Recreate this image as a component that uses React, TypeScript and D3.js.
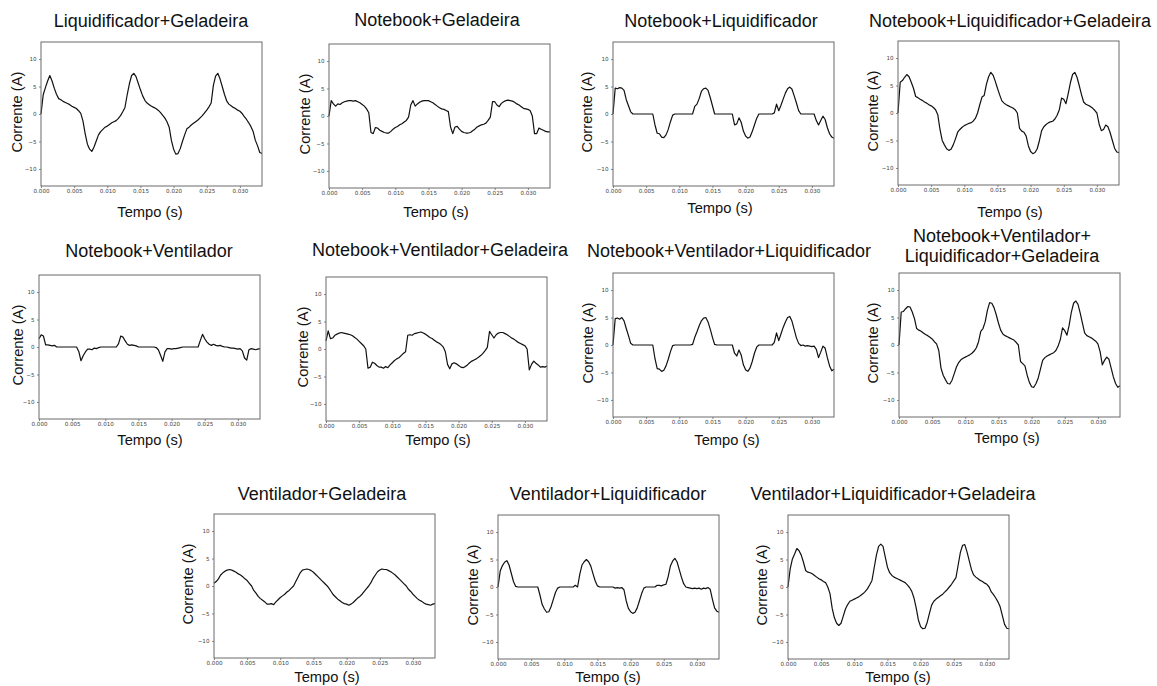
import React, { useEffect, useRef } from 'react';
import * as d3 from 'd3';

// samples are 1/3000 s apart, 101 per trace (0 .. 33.3 ms)
const SAMPLE_STEP = 1 / 3000;
const X_DOMAIN: [number, number] = [0, 1 / 30];
const Y_DOMAIN: [number, number] = [-13.1, 13.1];
const X_TICKS = [0, 0.005, 0.01, 0.015, 0.02, 0.025, 0.03];
const Y_TICKS = [-10, -5, 0, 5, 10];

const liqGeladeira = [
  0, 3.5, 4.8, 6.0, 7.0, 6.0, 4.7, 3.6, 2.8, 2.6,
  2.3, 2.1, 1.9, 1.7, 1.4, 1.2, 1.0, 0.6, 0.1, -1.3,
  -3.6, -5.5, -6.4, -6.8, -6.0, -4.9, -3.8, -3.2, -2.8, -2.4,
  -2.2, -1.9, -1.6, -1.4, -1.2, -0.8, -0.3, 0.4, 1.2, 3.5,
  5.5, 7.0, 7.4, 6.8, 5.6, 4.4, 3.3, 2.5, 2.0, 1.7,
  1.4, 1.2, 1.0, 0.7, 0.3, -0.2, -0.7, -1.4, -2.4, -4.8,
  -6.4, -7.3, -7.2, -6.3, -5.0, -3.8, -2.7, -2.4, -2.0, -1.7,
  -1.4, -1.1, -0.7, -0.3, 0.2, 0.7, 1.3, 2.0, 5.2, 6.9,
  7.4, 6.4, 5.0, 3.6, 2.4, 1.8, 1.5, 1.2, 1.0, 0.7,
  0.5, 0.1, -0.5, -1.0, -1.6, -2.3, -3.2, -4.8, -5.8, -7.0,
  -7.2,
];

const notebookGeladeira = [
  0, 2.8, 2.2, 1.8, 2.2, 2.1, 2.4, 2.6, 2.7, 2.8,
  2.8, 2.7, 2.8, 2.6, 2.4, 2.1, 1.8, 1.3, 0.6, -3.0,
  -3.2, -2.1, -2.2, -2.6, -2.8, -3.0, -3.1, -3.1, -2.8, -2.4,
  -2.1, -1.9, -1.6, -1.4, -1.1, -0.8, -0.2, 2.0, 2.8, 1.8,
  2.2, 2.5, 2.7, 2.8, 2.8, 2.8, 2.6, 2.4, 2.1, 1.8,
  1.5, 1.3, 1.2, 1.0, 0.8, -2.0, -3.2, -2.0, -1.9, -2.4,
  -2.8, -3.0, -3.1, -3.1, -3.0, -2.7, -2.4, -2.0, -1.8, -1.6,
  -1.5, -1.3, -0.8, -0.2, 2.6, 2.6, 2.0, 1.7, 2.3, 2.6,
  2.8, 2.9, 2.8, 2.7, 2.5, 2.2, 2.0, 1.7, 1.4, 1.3,
  1.2, 1.0, 0.0, -3.2, -3.2, -2.2, -2.4, -2.6, -2.8, -2.9,
  -2.9,
];

const notebookLiq = [
  0, 4.7, 4.6, 4.8, 4.7, 4.3, 2.6, 1.5, 0.4, 0,
  0, 0, 0, 0, 0, 0, 0, 0, 0, -2.0,
  -3.5, -3.6, -4.2, -4.3, -3.8, -2.8, -1.4, -0.2, 0, 0,
  0, 0, 0, 0, 0, 0, 0, 1.4, 1.8, 2.8,
  4.1, 4.6, 4.7, 4.3, 3.0, 1.5, 0, 0, 0, 0,
  0, 0, 0, 0, 0, -2.0, -1.8, -0.7, -1.5, -3.1,
  -4.0, -4.4, -4.2, -3.2, -2.0, -0.8, 0, 0, 0, 0,
  0, 0, 0, 0.2, 1.8, 0.6, 1.6, 2.7, 3.8, 4.6,
  4.9, 4.5, 3.3, 2.0, 0.6, 0, 0, 0, 0, 0,
  0, 0, -1.2, -2.0, -1.2, -0.4, -1.0, -2.5, -3.6, -4.2,
  -4.4,
];

const notebookLiqGeladeira = [
  0, 5.6, 5.9, 6.5, 7.0, 6.6, 5.6, 4.5, 3.0, 2.8,
  2.5, 2.3, 2.0, 1.8, 1.5, 1.3, 1.0, 0.6, -0.3, -3.0,
  -5.0, -5.8, -6.5, -6.8, -6.6, -5.8, -4.7, -3.5, -3.0, -2.6,
  -2.3, -2.1, -1.9, -1.8, -1.5, -1.0, 0.0, 1.5, 2.9, 3.2,
  5.2, 6.6, 7.4, 6.9, 5.8, 4.5, 3.3, 2.2, 1.8, 1.5,
  1.3, 1.1, 0.9, 0.6, 0.0, -2.8, -3.3, -3.5, -4.2, -6.0,
  -7.0, -7.4, -7.2, -6.5, -5.0, -3.2, -2.5, -2.1, -1.8, -1.6,
  -1.5, -1.1, -0.4, 0.6, 2.7, 2.5, 1.7, 3.5, 5.5, 7.0,
  7.4, 6.5, 5.0, 3.4, 2.0, 1.6, 1.4, 1.2, 0.9, 0.5,
  0.0, -2.0, -3.2, -3.0, -2.2, -2.5, -3.6, -5.0, -6.4, -7.1,
  -7.2,
];

const notebookVent = [
  1.5, 2.2, 2.0, 0.4, 0.4, 0.3, 0.2, 0.3, 0.0, 0,
  0, 0, 0, 0, 0, 0, 0, 0, -0.8, -2.5,
  -1.6, -0.9, -0.4, -0.4, -0.5, -0.2, -0.3, -0.1, 0, 0,
  0, 0, 0, 0, 0, 0, 0.6, 2.0, 1.8, 1.1,
  0.5, 0.3, 0.4, 0.3, 0.2, 0, 0, 0, 0, 0,
  0, 0, 0, -0.1, -0.5, -1.5, -2.6, -0.9, -0.3, -0.3,
  -0.4, -0.3, -0.3, -0.2, -0.1, 0, 0, 0, 0, 0,
  0, 0, 0, 1.2, 2.3, 1.5, 0.9, 0.5, 0.3, 0.5,
  0.3, 0.2, 0.3, 0.1, 0, 0, -0.1, -0.2, -0.2, -0.3,
  -0.4, -0.3, -0.7, -2.0, -2.4, -0.5, -0.3, -0.4, -0.5, -0.4,
  -0.3,
];

const notebookVentGeladeira = [
  1.5, 3.3, 1.9, 2.0, 2.5, 2.7, 2.9, 3.0, 2.9, 2.8,
  2.7, 2.6, 2.4, 2.1, 1.8, 1.4, 1.0, 0.6, 0.0, -3.5,
  -3.3, -2.4, -2.6, -3.0, -3.3, -3.3, -3.5, -3.2, -3.4, -2.9,
  -2.5, -2.1, -1.8, -1.6, -1.2, -0.8, -0.5, 2.5, 2.6, 2.5,
  2.8, 2.9, 3.0, 3.1, 2.9, 2.7, 2.4, 2.1, 1.9, 1.6,
  1.3, 1.1, 0.8, 0.4, -0.5, -2.8, -3.6, -2.7, -2.5, -2.7,
  -3.0, -3.3, -3.4, -3.2, -2.9, -2.5, -2.2, -2.0, -1.8, -1.5,
  -1.2, -0.8, -0.3, 0.3, 3.2, 2.6, 2.0, 2.6, 2.9, 3.0,
  3.0, 2.8, 2.6, 2.3, 2.0, 1.8, 1.5, 1.2, 1.0, 0.8,
  0.6, 0.0, -3.8, -2.8, -2.2, -2.6, -2.9, -3.3, -3.2, -3.3,
  -3.1,
];

const notebookVentLiq = [
  0, 4.8, 4.9, 4.7, 5.0, 4.4, 3.0, 1.7, 0.3, 0,
  0, 0, 0, 0, 0, 0, 0, 0, 0, -2.5,
  -4.3, -4.4, -4.8, -4.6, -3.8, -2.6, -1.2, -0.1, 0, 0,
  0, 0, 0, 0, 0, 0, 0.1, 1.4, 2.4, 3.5,
  4.4, 4.9, 5.0, 4.2, 2.9, 1.4, 0.1, 0, 0, 0,
  0, 0, 0, 0, 0, -1.5, -2.0, -0.9, -1.8, -3.6,
  -4.5, -4.8, -4.2, -3.0, -1.5, -0.4, 0, 0, 0, 0,
  0, 0, 0, 0.5, 2.2, 0.8, 2.0, 3.2, 4.2, 5.0,
  5.2, 4.3, 2.8, 1.3, 0.3, -0.1, 0, -0.2, -0.1, -0.2,
  -0.3, -0.2, -0.8, -2.3, -1.3, -0.2, -0.6, -2.3, -3.8, -4.7,
  -4.4,
];

const notebookVentLiqGeladeira = [
  0, 6.0, 6.1, 6.6, 7.0, 6.9, 6.0, 4.8, 3.0, 2.7,
  2.5, 2.2, 1.9, 1.7, 1.4, 1.1, 0.6, 0.2, -1.0, -4.2,
  -5.5, -6.3, -7.0, -7.1, -6.4, -5.2, -4.0, -3.2, -2.7, -2.4,
  -2.2, -2.0, -1.8, -1.5, -1.1, -0.5, 0.6, 2.5, 3.0, 4.2,
  6.3, 7.7, 7.6, 6.8, 5.5, 4.0, 2.7, 2.0, 1.7, 1.5,
  1.3, 1.1, 0.9, 0.5, 0.0, -3.0, -3.4, -3.8, -5.5, -6.8,
  -7.6, -7.7, -7.0, -6.0, -4.4, -2.8, -2.3, -2.0, -1.8, -1.6,
  -1.4, -1.0, -0.2, 1.0, 3.1, 2.6, 1.8, 3.6, 6.0, 7.6,
  8.0, 7.4, 5.8, 4.0, 2.2, 1.7, 1.5, 1.3, 1.0, 0.7,
  0.2, -1.2, -3.6, -2.8, -2.2, -2.6, -4.2, -5.8, -7.0, -7.7,
  -7.4,
];

const ventGeladeira = [
  0.5, 0.8, 1.3, 2.0, 2.4, 2.7, 2.9, 3.0, 2.9, 2.7,
  2.5, 2.2, 2.0, 1.7, 1.3, 1.0, 0.5, 0.0, -0.8, -1.3,
  -1.9, -2.3, -2.6, -2.9, -3.3, -3.3, -3.2, -3.4, -2.9, -2.5,
  -2.1, -1.8, -1.5, -1.1, -0.8, -0.4, 0.0, 0.8, 1.6, 2.4,
  2.9, 3.0, 3.1, 3.0, 2.8, 2.5, 2.1, 1.7, 1.3, 0.9,
  0.5, 0.1, -0.4, -1.0, -1.6, -2.0, -2.4, -2.7, -3.0, -3.2,
  -3.3, -3.5, -3.3, -3.0, -2.6, -2.2, -1.9, -1.5, -1.0, -0.5,
  0.0, 0.6, 1.4, 2.0, 2.6, 2.9, 3.1, 3.0, 3.0, 2.8,
  2.6, 2.3, 2.0, 1.6, 1.2, 0.8, 0.4, 0.0, -0.6, -1.0,
  -1.5, -1.9, -2.3, -2.6, -2.8, -3.1, -3.3, -3.4, -3.5, -3.3,
  -3.2,
];

const ventLiq = [
  0, 2.9, 3.9, 4.5, 4.8, 4.0, 2.5, 1.0, 0.1, 0,
  0, 0, 0, 0, 0, 0, 0, 0, 0, -1.5,
  -3.2, -4.0, -4.6, -4.5, -3.6, -2.3, -1.0, -0.2, 0, 0,
  0, 0, 0, 0, 0, 0.3, 0, 2.3, 4.0, 4.6,
  5.0, 4.6, 3.8, 2.4, 1.1, 0.2, 0, 0, 0, 0,
  0, 0, 0, -0.2, -0.1, -0.2, -0.1, -0.5, -2.5, -3.9,
  -4.5, -4.8, -4.6, -3.8, -2.5, -1.2, -0.2, 0, 0, 0,
  0, 0, 0.3, 0.3, 0.2, 0.4, 0.5, 1.9, 3.8, 4.7,
  5.2, 4.6, 3.2, 1.8, 0.6, 0, -0.1, -0.2, -0.3, -0.2,
  -0.3, -0.2, -0.4, -0.2, -0.3, -0.1, -0.4, -2.2, -3.8, -4.4,
  -4.6,
];

const ventLiqGeladeira = [
  0, 3.3, 5.1, 6.0, 7.0, 6.6, 5.8, 4.5, 3.0, 2.7,
  2.6, 2.4, 2.1, 1.8, 1.5, 1.3, 1.0, 0.8, 0.0, -1.2,
  -3.9, -5.6, -6.6, -7.0, -6.6, -5.3, -4.0, -3.2, -2.6, -2.4,
  -2.2, -2.0, -1.8, -1.5, -1.2, -0.8, -0.3, 0.4, 1.2, 3.5,
  5.8, 7.4, 7.8, 7.4, 5.5, 3.6, 2.6, 2.1, 1.8, 1.6,
  1.4, 1.2, 1.0, 0.8, 0.4, -0.1, -0.8, -2.0, -3.8, -6.0,
  -7.2, -7.6, -7.5, -6.4, -4.8, -3.3, -2.6, -2.2, -1.9, -1.6,
  -1.3, -0.9, -0.5, 0.0, 0.5, 1.1, 1.7, 4.0, 6.3, 7.6,
  7.7, 6.4, 4.8, 3.2, 2.2, 1.8, 1.5, 1.2, 1.0, 0.7,
  0.5, 0.0, -0.9, -1.4, -2.0, -2.7, -3.6, -5.2, -6.8, -7.5,
  -7.6,
];

const SERIES = [
  liqGeladeira, notebookGeladeira, notebookLiq, notebookLiqGeladeira,
  notebookVent, notebookVentGeladeira, notebookVentLiq, notebookVentLiqGeladeira,
  ventGeladeira, ventLiq, ventLiqGeladeira,
];

const TITLES = [
  ['Liquidificador+Geladeira'],
  ['Notebook+Geladeira'],
  ['Notebook+Liquidificador'],
  ['Notebook+Liquidificador+Geladeira'],
  ['Notebook+Ventilador'],
  ['Notebook+Ventilador+Geladeira'],
  ['Notebook+Ventilador+Liquidificador'],
  ['Notebook+Ventilador+', 'Liquidificador+Geladeira'],
  ['Ventilador+Geladeira'],
  ['Ventilador+Liquidificador'],
  ['Ventilador+Liquidificador+Geladeira'],
];

const Y_LABEL = 'Corrente (A)';
const X_LABEL = 'Tempo (s)';

// each panel was pasted separately, so every one sits a bit differently
const LAYOUT = [
  { x: 41, y: 42, tx: 151, ty: 27, ylx: 17, xlx: 150, xly: 217 },
  { x: 329, y: 44, tx: 437, ty: 26, ylx: 305, xlx: 436, xly: 217 },
  { x: 613, y: 42, tx: 721, ty: 27, ylx: 587, xlx: 720, xly: 213 },
  { x: 898, y: 41, tx: 1010, ty: 27, ylx: 873, xlx: 1010, xly: 217 },
  { x: 39, y: 275, tx: 149, ty: 257, ylx: 18, xlx: 150, xly: 445 },
  { x: 326, y: 277, tx: 440, ty: 256, ylx: 303, xlx: 438, xly: 445 },
  { x: 613, y: 273, tx: 729, ty: 257, ylx: 588, xlx: 727, xly: 445 },
  { x: 899, y: 273, tx: 1002, ty: 242, ylx: 873, xlx: 1007, xly: 443 },
  { x: 214, y: 514, tx: 322, ty: 500, ylx: 188, xlx: 327, xly: 682 },
  { x: 498, y: 515, tx: 608, ty: 500, ylx: 473, xlx: 608, xly: 682 },
  { x: 788, y: 515, tx: 893, ty: 500, ylx: 762, xlx: 898, xly: 682 },
];

const BOX_W = 221;
const BOX_H = 144;
const SANS = '"Liberation Sans", Arial, Helvetica, sans-serif';
const TICK_FONT = '"DejaVu Sans", sans-serif';

export default function App() {
  const svgRef = useRef<SVGSVGElement>(null);

  useEffect(() => {
    const svg = d3.select(svgRef.current);
    svg.selectAll('*').remove();
    svg.append('rect').attr('width', 1157).attr('height', 686).attr('fill', '#fff');

    const x = d3.scaleLinear().domain(X_DOMAIN).range([0, BOX_W]);
    const y = d3.scaleLinear().domain(Y_DOMAIN).range([BOX_H, 0]);
    const line = d3.line<number>().x((_, i) => x(i * SAMPLE_STEP)).y(d => y(d));

    SERIES.forEach((values, k) => {
      const L = LAYOUT[k];
      const g = svg.append('g').attr('transform', `translate(${L.x},${L.y})`);

      const xa = g.append('g').attr('transform', `translate(0,${BOX_H})`)
        .call(d3.axisBottom(x).tickValues(X_TICKS).tickFormat(d3.format('.3f')).tickSize(2).tickPadding(1.5));
      const ya = g.append('g')
        .call(d3.axisLeft(y).tickValues(Y_TICKS).tickFormat(d3.format('d')).tickSize(2).tickPadding(2.5));
      [xa, ya].forEach(a => {
        a.select('.domain').remove();
        a.selectAll('line').attr('stroke', '#555').attr('stroke-width', 0.7);
        a.selectAll('text').attr('font-size', 5.6).attr('font-family', TICK_FONT).attr('fill', '#444');
      });

      g.append('path').attr('d', line(values)).attr('fill', 'none')
        .attr('stroke', '#111').attr('stroke-width', 1.2).attr('stroke-linejoin', 'round');

      g.append('rect').attr('width', BOX_W).attr('height', BOX_H)
        .attr('fill', 'none').attr('stroke', '#6a6a6a').attr('stroke-width', 1);

      TITLES[k].forEach((t, j) => {
        svg.append('text').attr('x', L.tx).attr('y', L.ty + j * 20)
          .attr('text-anchor', 'middle').attr('font-family', SANS).attr('font-size', 18)
          .attr('fill', '#111').text(t);
      });

      svg.append('text')
        .attr('transform', `translate(${L.ylx},${L.y + BOX_H / 2 - 2}) rotate(-90)`)
        .attr('text-anchor', 'middle').attr('dominant-baseline', 'central')
        .attr('font-family', SANS).attr('font-size', 14.7).attr('fill', '#111').text(Y_LABEL);

      svg.append('text').attr('x', L.xlx).attr('y', L.xly)
        .attr('text-anchor', 'middle').attr('font-family', SANS).attr('font-size', 14.7)
        .attr('fill', '#111').text(X_LABEL);
    });
  }, []);

  return (
    <svg ref={svgRef} width={1157} height={686} viewBox="0 0 1157 686"
      style={{ position: 'absolute', left: 0, top: 0, display: 'block' }} />
  );
}
